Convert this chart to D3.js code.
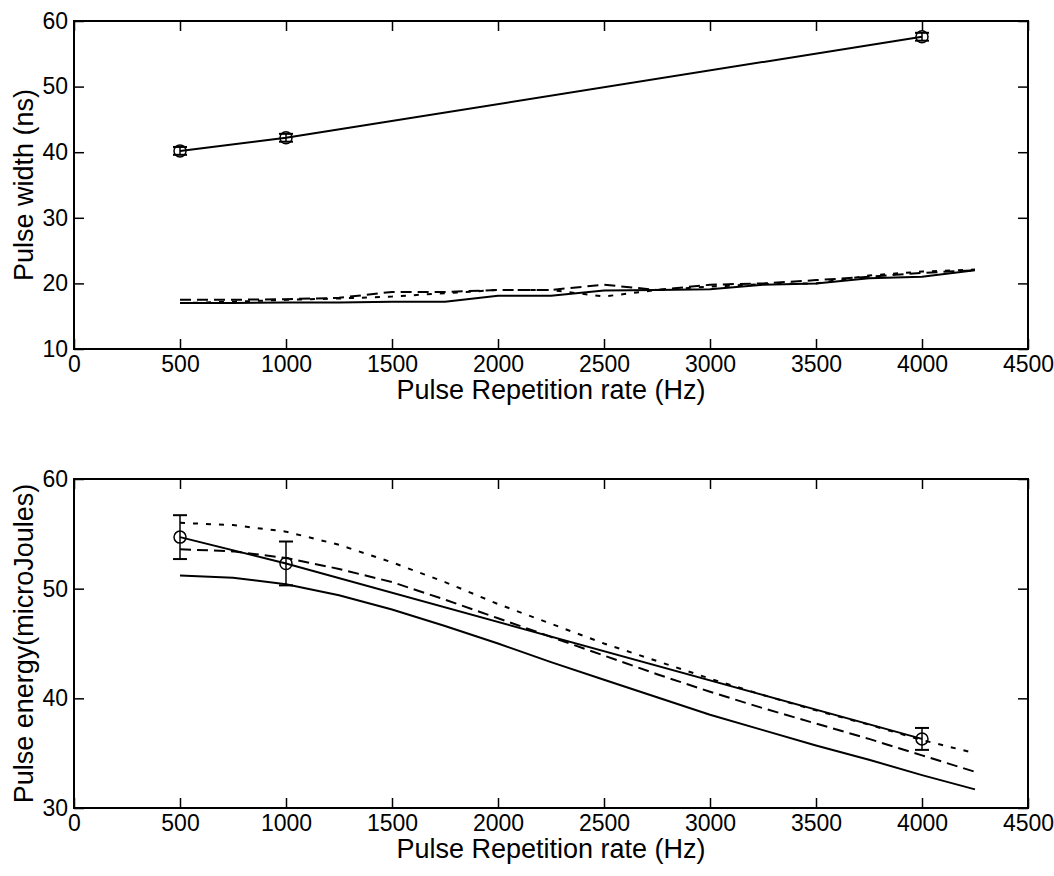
<!DOCTYPE html>
<html><head><meta charset="utf-8">
<script src="https://cdn.jsdelivr.net/npm/d3@7"></script>
<style>body{margin:0;background:#fff}svg{display:block}text{font-family:"Liberation Sans",Arial,sans-serif;fill:#000}</style>
</head><body><svg id="c" width="1054" height="876"></svg>
<script>
// ---- data ----
const xTicks = [0,500,1000,1500,2000,2500,3000,3500,4000,4500];
const topYTicks = [10,20,30,40,50,60];
const botYTicks = [30,40,50,60];
const modelX = [500,750,1000,1250,1500,1750,2000,2250,2500,2750,3000,3250,3500,3750,4000,4250];

// Top: pulse width
const widthMeasX = [500,1000,4000];
const widthMeas = [40.2,42.2,57.6];
const widthErr = [0.6,0.6,0.6];
const widthSolid = [17.0,17.0,17.1,17.1,17.2,17.2,18.1,18.1,18.9,19.0,19.1,19.8,20.0,20.8,21.0,22.0];
const widthDash = [17.5,17.5,17.6,17.8,18.7,18.7,19.0,19.0,19.8,19.0,19.8,20.0,20.5,21.0,21.6,22.0];
const widthShort = [17.0,17.2,17.5,17.7,18.0,18.5,19.0,19.0,18.0,19.0,19.5,19.9,20.0,21.2,21.8,22.1];

// Bottom: pulse energy
const energyMeasX = [500,1000,4000];
const energyMeas = [54.7,52.3,36.3];
const energyErr = [2.0,2.0,1.0];
const energySolid = [51.2,51.0,50.4,49.4,48.1,46.6,45.0,43.3,41.7,40.1,38.5,37.1,35.7,34.4,33.0,31.7];
const energyDash = [53.6,53.4,52.8,51.8,50.6,49.0,47.3,45.6,43.9,42.2,40.6,39.1,37.7,36.3,34.8,33.3];
const energyShort = [56.0,55.8,55.2,54.0,52.4,50.6,48.6,46.8,45.0,43.4,41.8,40.3,38.9,37.6,36.2,35.0];

const svg = d3.select("#c");
const L = 74, R = 1028;

function panel(top, bottom, yDomain, yTicks, ylabel, xlabelY, measX, meas, err, solid, dash, shortd){
  const x = d3.scaleLinear().domain([0,4500]).range([L,R]);
  const y = d3.scaleLinear().domain(yDomain).range([bottom, top]);
  const g = svg.append("g");
  const fs = "23px";
  const xb = g.append("g").attr("transform",`translate(0,${bottom})`)
    .call(d3.axisBottom(x).tickValues(xTicks).tickFormat(d3.format("d")).tickSizeInner(-10).tickSizeOuter(0).tickPadding(5));
  const xt = g.append("g").attr("transform",`translate(0,${top})`)
    .call(d3.axisTop(x).tickValues(xTicks).tickFormat("").tickSizeInner(-10).tickSizeOuter(0));
  const yl = g.append("g").attr("transform",`translate(${L},0)`)
    .call(d3.axisLeft(y).tickValues(yTicks).tickFormat(d3.format("d")).tickSizeInner(-10).tickSizeOuter(0).tickPadding(6));
  const yr = g.append("g").attr("transform",`translate(${R},0)`)
    .call(d3.axisRight(y).tickValues(yTicks).tickFormat("").tickSizeInner(-10).tickSizeOuter(0));
  [xb,xt,yl,yr].forEach(a=>{a.select(".domain").remove(); a.selectAll("line").attr("stroke","#000").attr("stroke-width",1.5);
    a.selectAll("text").style("font-size",fs).style("font-family",'"Liberation Sans",Arial,sans-serif');});
  xb.selectAll("text").attr("y",6).attr("dy","0.72em");
  g.append("rect").attr("x",L).attr("y",top).attr("width",R-L).attr("height",bottom-top)
    .attr("fill","none").attr("stroke","#000").attr("stroke-width",2);
  // labels
  g.append("text").attr("x",(L+R)/2).attr("y",xlabelY).attr("text-anchor","middle").style("font-size","27px").text("Pulse Repetition rate (Hz)");
  g.append("text").attr("transform",`translate(33,${(top+bottom)/2}) rotate(-90)`).attr("text-anchor","middle").style("font-size","27px").text(ylabel);
  // model lines
  const line = d3.line().x(d=>x(d[0])).y(d=>y(d[1]));
  const mk = arr => modelX.map((v,i)=>[v,arr[i]]);
  g.append("path").datum(mk(solid)).attr("d",line).attr("fill","none").attr("stroke","#000").attr("stroke-width",2);
  g.append("path").datum(mk(dash)).attr("d",line).attr("fill","none").attr("stroke","#000").attr("stroke-width",2).attr("stroke-dasharray","11,6");
  g.append("path").datum(mk(shortd)).attr("d",line).attr("fill","none").attr("stroke","#000").attr("stroke-width",2).attr("stroke-dasharray","5,8");
  // measured
  const md = measX.map((v,i)=>[v,meas[i],err[i]]);
  g.append("path").datum(md).attr("d",line).attr("fill","none").attr("stroke","#000").attr("stroke-width",2);
  const eb = g.selectAll(".eb").data(md).enter().append("g");
  eb.append("line").attr("x1",d=>x(d[0])).attr("x2",d=>x(d[0])).attr("y1",d=>y(d[1]-d[2])).attr("y2",d=>y(d[1]+d[2])).attr("stroke","#000").attr("stroke-width",1.5);
  [-1,1].forEach(s=>eb.append("line").attr("x1",d=>x(d[0])-7).attr("x2",d=>x(d[0])+7).attr("y1",d=>y(d[1]+s*d[2])).attr("y2",d=>y(d[1]+s*d[2])).attr("stroke","#000").attr("stroke-width",2));
  eb.append("circle").attr("cx",d=>x(d[0])).attr("cy",d=>y(d[1])).attr("r",6).attr("fill","none").attr("stroke","#000").attr("stroke-width",1.5);
}

panel(21, 349, [10,60], topYTicks, "Pulse width (ns)", 399, widthMeasX, widthMeas, widthErr, widthSolid, widthDash, widthShort);
panel(479, 808, [30,60], botYTicks, "Pulse energy(microJoules)", 858, energyMeasX, energyMeas, energyErr, energySolid, energyDash, energyShort);
</script></body></html>
